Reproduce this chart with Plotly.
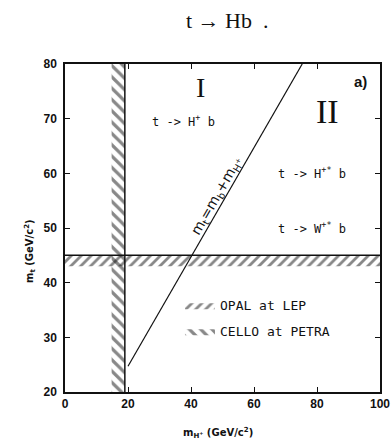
import plotly.graph_objects as go

# ---- data ----
x_range = [0, 100]
y_range = [20, 80]
x_ticks = [0, 20, 40, 60, 80, 100]
y_ticks = [20, 30, 40, 50, 60, 70, 80]

cello_band = [14.8, 19.0]   # excluded m_H+ band (CELLO at PETRA)
opal_band = [43.0, 45.0]    # excluded m_t band (OPAL at LEP)

diag_mh = [20.0, 75.3]      # m_t = m_b + m_H+
diag_mt = [24.7, 80.0]

region_labels = ["I", "II", "a)"]
region_x = [42.9, 83.2, 93.7]
region_y = [75.7, 71.3, 76.8]

decay_labels = ["t -> H<sup>+</sup> b", "t -> H<sup>+*</sup> b", "t -> W<sup>+*</sup> b"]
decay_x = [37.5, 78.4, 78.4]
decay_y = [69.6, 60.0, 50.0]

legend_names = ["OPAL at LEP", "CELLO at PETRA"]

INK = "#111111"
fig = go.Figure()

# OPAL band (horizontal)
fig.add_trace(go.Scatter(
    x=[x_range[0], x_range[1], x_range[1], x_range[0], x_range[0]],
    y=[opal_band[0], opal_band[0], opal_band[1], opal_band[1], opal_band[0]],
    fill="toself", mode="lines", line=dict(width=0, color=INK),
    fillcolor="rgba(255,255,255,0)",
    fillpattern=dict(shape="/", fgcolor=INK, bgcolor="rgba(255,255,255,0)", size=7, solidity=0.4),
    name=legend_names[0], legendgroup="a", hoverinfo="skip"))
# CELLO band (vertical)
fig.add_trace(go.Scatter(
    x=[cello_band[0], cello_band[1], cello_band[1], cello_band[0], cello_band[0]],
    y=[y_range[0], y_range[0], y_range[1], y_range[1], y_range[0]],
    fill="toself", mode="lines", line=dict(width=0, color=INK),
    fillcolor="rgba(255,255,255,0)",
    fillpattern=dict(shape="\\", fgcolor=INK, bgcolor="rgba(255,255,255,0)", size=8, solidity=0.4),
    name=legend_names[1], legendgroup="b", hoverinfo="skip"))

# boundary lines
fig.add_trace(go.Scatter(x=x_range, y=[opal_band[1]] * 2, mode="lines",
                         line=dict(color=INK, width=1.5), showlegend=False, hoverinfo="skip"))
fig.add_trace(go.Scatter(x=[cello_band[1]] * 2, y=y_range, mode="lines",
                         line=dict(color=INK, width=1.5), showlegend=False, hoverinfo="skip"))
# diagonal kinematic line
fig.add_trace(go.Scatter(x=diag_mh, y=diag_mt, mode="lines",
                         line=dict(color=INK, width=1.2), showlegend=False, hoverinfo="skip"))

# region labels
sizes = [28, 34, 15]
fams = ["Liberation Serif", "Liberation Serif", "Liberation Sans"]
for t, x, y, s, f in zip(region_labels, region_x, region_y, sizes, fams):
    fig.add_annotation(x=x, y=y, text=t if t != "a)" else "<b>a)</b>", showarrow=False,
                       font=dict(family=f, size=s, color=INK))
for t, x, y in zip(decay_labels, decay_x, decay_y):
    fig.add_annotation(x=x, y=y, text=t, showarrow=False,
                       font=dict(family="DejaVu Sans Mono", size=12, color=INK))

# diagonal label
fig.add_annotation(x=48.25, y=55.9, text="m<sub>t</sub>=m<sub>b</sub>+m<sub>H<sup>+</sup></sub>",
                   showarrow=False, textangle=-60,
                   font=dict(family="DejaVu Sans", size=14, color=INK))

# title
fig.add_annotation(xref="paper", yref="paper", x=0.485, xshift=10, y=1.0, yshift=44,
                   xanchor="center", yanchor="middle", text="t \u2192 Hb \u00a0.", showarrow=False,
                   font=dict(family="Liberation Serif", size=22, color=INK))
# axis titles
fig.add_annotation(xref="paper", yref="paper", x=0.485, y=0, yshift=-41, xanchor="center",
                   yanchor="middle", text="<b>m<sub>H<sup>+</sup></sub> (GeV/c<sup>2</sup>)</b>",
                   showarrow=False, font=dict(family="DejaVu Sans", size=10, color=INK))
fig.add_annotation(xref="paper", yref="paper", x=0, xshift=-35, y=0.43, xanchor="center",
                   yanchor="middle", text="<b>m<sub>t</sub> (GeV/c<sup>2</sup>)</b>", textangle=-90,
                   showarrow=False, font=dict(family="DejaVu Sans", size=10, color=INK))

axis_common = dict(showgrid=False, zeroline=False, showline=True, linecolor=INK, linewidth=1.5,
                   mirror="ticks", ticks="inside", ticklen=5, tickwidth=1.2, tickcolor=INK,
                   automargin=False,
                   tickfont=dict(family="Liberation Sans", size=12, color=INK, weight="bold"))
fig.update_xaxes(range=x_range, tickvals=x_ticks, **axis_common)
fig.update_yaxes(range=y_range, tickvals=y_ticks, ticklabelstandoff=4, **axis_common)

fig.update_layout(
    width=391, height=443,
    margin=dict(l=65, r=11, t=64, b=51, autoexpand=False),
    plot_bgcolor="white", paper_bgcolor="white",
    showlegend=True,
    legend=dict(x=0.365, y=0.31, xanchor="left", yanchor="top", bgcolor="rgba(0,0,0,0)",
                tracegroupgap=6, itemwidth=30,
                font=dict(family="DejaVu Sans Mono", size=13, color=INK)),
)

fig.write_html("out.html")
